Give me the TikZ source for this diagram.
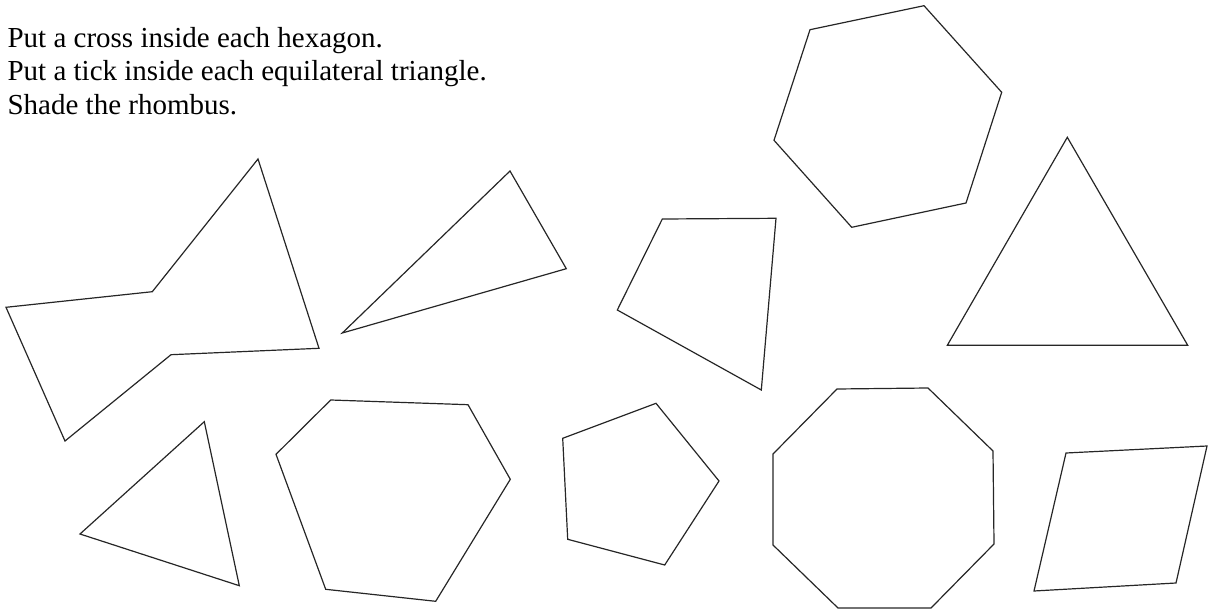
\documentclass[tikz,border=0pt]{standalone}
\usepackage{fontspec}
\setmainfont{Liberation Serif}
\usepackage{tikz}

\begin{document}
\begin{tikzpicture}[x=1pt,y=-1pt,line width=1.2pt,line join=miter,
       outline/.style={draw=black!85},
       instr/.style={anchor=base west,inner sep=0pt,font=\fontsize{29}{33}\selectfont}]
       \useasboundingbox (0,0) rectangle (1209,609);

       \node[instr] (l1) at (7,47.5) {Put a cross inside each hexagon.};
       \node[instr] (l2) at (7,81) {Put a tick inside each equilateral triangle.};
       \node[instr] (l3) at (7,114.5) {Shade the rhombus.};

       % top row
       \draw[outline] (258,159) -- (319,348.3) -- (171,354.7) -- (65,441) -- (6,307.3) -- (152.3,291.7) -- cycle;
       \draw[outline] (510,171) -- (566.3,268.7) -- (342.3,333) -- cycle;
       \draw[outline] (662.3,219) -- (776,218.3) -- (761.3,390) -- (617.3,310) -- cycle;
       \draw[outline] (810,29.7) -- (924,5.7) -- (1001.7,92.3) -- (966,203) -- (851.7,227.3) -- (774,140.3) -- cycle;
       \draw[outline] (1067.3,137.3) -- (1187.7,345.3) -- (947.3,345.3) -- cycle;

       % bottom row
       \draw[outline] (204.3,421.7) -- (239.3,585.7) -- (80,534) -- cycle;
       \draw[outline] (330.7,400) -- (468,404.7) -- (510.3,479.3) -- (435.7,601.3) -- (325.7,589.3) -- (276,454.3) -- cycle;
       \draw[outline] (656,403.3) -- (719,481) -- (664.7,565) -- (567.7,539.3) -- (562.7,438.3) -- cycle;
       \draw[outline] (837,389) -- (928,388) -- (993,451) -- (994,544) -- (931,608) -- (838,608) -- (773,545) -- (773,454) -- cycle;
       \draw[outline] (1066,453) -- (1207,446) -- (1176,583) -- (1034,591) -- cycle;
    \end{tikzpicture}
\end{document}
